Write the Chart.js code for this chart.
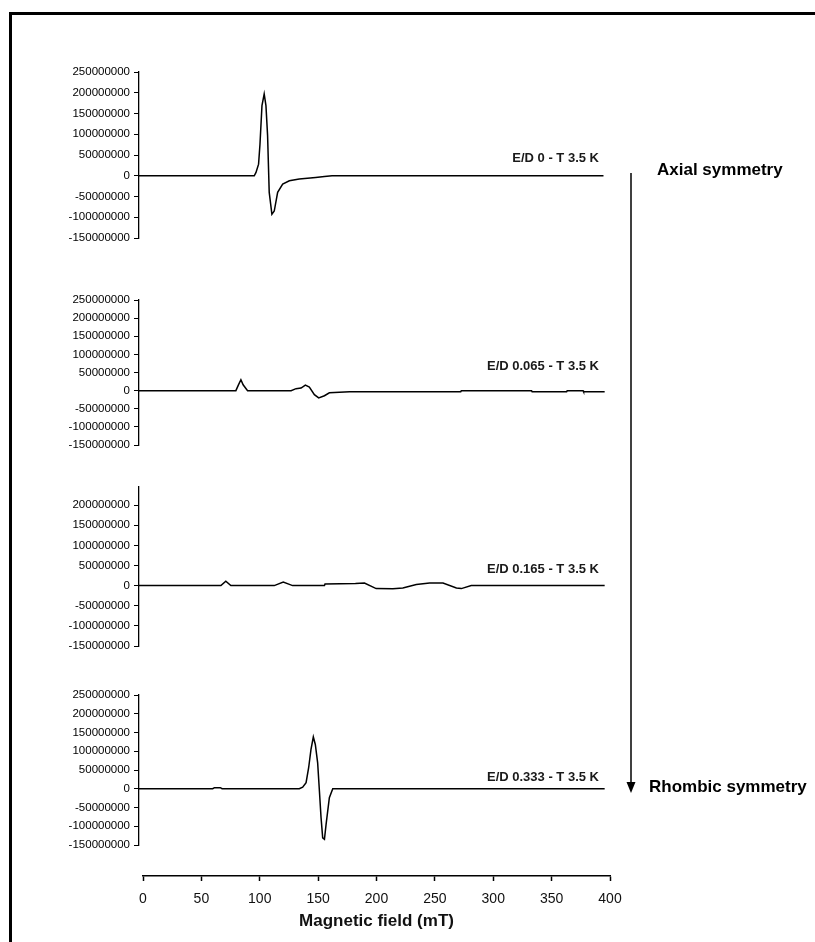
<!DOCTYPE html>
<html><head><meta charset="utf-8">
<script src="https://cdn.jsdelivr.net/npm/chart.js@4.4.1/dist/chart.umd.min.js"></script>
<style>
html,body{margin:0;padding:0;background:#fff;}
#page{position:relative;width:815px;height:942px;overflow:hidden;font-family:"Liberation Sans",Arial,sans-serif;background:#fff;}
#frame{position:absolute;left:9px;top:12px;width:830px;height:960px;border-top:3px solid #000;border-left:3px solid #000;}
canvas{position:absolute;left:0;top:0;}
.lbl{position:absolute;right:216px;font-weight:bold;font-size:13px;color:#1a1a1a;white-space:nowrap;line-height:16px;height:16px;margin-top:-8px;}
.sym{position:absolute;font-weight:bold;font-size:17px;color:#000;white-space:nowrap;line-height:20px;height:20px;margin-top:-10px;}
svg{position:absolute;left:0;top:0;}
</style></head>
<body>
<div id="page">
  <div id="frame"></div>
  <canvas id="p1" width="815" height="196"></canvas>
  <canvas id="p2" width="815" height="175"></canvas>
  <canvas id="p3" width="815" height="189"></canvas>
  <canvas id="p4" width="815" height="180"></canvas>
  <canvas id="ax" width="815" height="220"></canvas>
  <div class="lbl" style="top:158px">E/D 0 - T 3.5 K</div>
  <div class="lbl" style="top:366px">E/D 0.065 - T 3.5 K</div>
  <div class="lbl" style="top:569px">E/D 0.165 - T 3.5 K</div>
  <div class="lbl" style="top:777px">E/D 0.333 - T 3.5 K</div>
  <div class="sym" style="left:657px;top:170px">Axial symmetry</div>
  <div class="sym" style="left:649px;top:787px">Rhombic symmetry</div>
  <svg width="815" height="942">
    <line x1="631" y1="173" x2="631" y2="784" stroke="#000" stroke-width="1.5"/>
    <polygon points="626.5,782 635.5,782 631,793" fill="#000"/>
  </svg>
</div>
<script>
// ---- data ----
const field1 = [0, 98.5, 100, 102.2, 103.4, 105.1, 107, 108.5, 109.9, 111.3, 113.6, 115.6, 118.5, 122.8, 128.5, 137, 151, 158.5, 165, 397];
const signal1 = [0, 0, 8e6, 28e6, 76e6, 169e6, 197e6, 169e6, 97e6, -40e6, -93e6, -85e6, -40e6, -20e6, -12e6, -8e6, -4e6, -2e6, 0, 0];

const field2 = [0, 82.8, 85, 87.1, 89, 92.8, 130, 134.2, 138.5, 142.2, 145.6, 149.9, 153.6, 158.5, 162.7, 180, 275, 275.5, 335.5, 336, 365.5, 366, 379.6, 380, 398];
const signal2 = [0, 0, 16e6, 30e6, 16e6, 0, 0, 5.5e6, 7e6, 15e6, 10e6, -11e6, -20e6, -14e6, -6e6, -3e6, -3e6, 0, 0, -3e6, -3e6, 0, 0, -3e6, -3e6];

const field3 = [0, 70, 74.2, 78.5, 115.6, 123.3, 131.3, 158.5, 159, 185, 192.7, 202.7, 217, 225.5, 237, 248.4, 259.8, 271.3, 275.5, 284, 398];
const signal3 = [0, 0, 11e6, 0, 0, 9e6, 0, 0, 4e6, 5e6, 6.5e6, -7.4e6, -8e6, -5.7e6, 3e6, 6.5e6, 6.5e6, -5.7e6, -7.4e6, 0, 0];

const field4 = [0, 63, 64.5, 69.5, 71, 137, 139.9, 142.8, 145, 147, 149, 150.7, 152.7, 154.2, 155.6, 157, 158.5, 159.9, 162.7, 165.6, 398];
const signal4 = [0, 0, 3e6, 3e6, 0, 0, 4.4e6, 16e6, 56e6, 105e6, 138e6, 118e6, 69e6, -6e6, -77e6, -131e6, -135e6, -95e6, -24e6, 0, 0];

const yTicksFull = [-150e6, -100e6, -50e6, 0, 50e6, 100e6, 150e6, 200e6, 250e6];
const yTicksP3 = [-150e6, -100e6, -50e6, 0, 50e6, 100e6, 150e6, 200e6];
const xTicks = [0, 50, 100, 150, 200, 250, 300, 350, 400];
const xTitle = 'Magnetic field (mT)';

const FONT = '"Liberation Sans", Arial, sans-serif';

function place(chart, canvas, left, top, useBottom) {
  const a = chart.chartArea;
  canvas.style.left = (left - a.left) + 'px';
  canvas.style.top = (top - (useBottom ? a.bottom : a.top)) + 'px';
}

function makePanel(id, xs, ys, yMax, tickVals, areaTop) {
  const cv = document.getElementById(id);
  const pts = xs.map((x, i) => ({x: x, y: ys[i]}));
  const chart = new Chart(cv, {
    type: 'line',
    data: { datasets: [{ data: pts, borderColor: '#000', borderWidth: 1.5, pointRadius: 0, tension: 0, fill: false }] },
    options: {
      responsive: false, animation: false, devicePixelRatio: 1,
      layout: { padding: { left: 0, right: 208, top: 15, bottom: 15 } },
      plugins: { legend: { display: false }, tooltip: { enabled: false } },
      scales: {
        x: { type: 'linear', min: 0, max: 400, display: false },
        y: {
          type: 'linear', min: -150e6, max: yMax,
          afterBuildTicks: s => { s.ticks = tickVals.map(v => ({value: v})); },
          afterFit: s => { s.width = 139; },
          ticks: { color: '#000', font: { family: FONT, size: 11.5 }, padding: 4, callback: v => String(v) },
          grid: { drawOnChartArea: false, drawTicks: true, tickLength: 5, color: '#000', tickWidth: 1 },
          border: { display: true, color: '#000', width: 1.3 }
        }
      }
    }
  });
  place(chart, cv, 139, areaTop, false);
  return chart;
}

makePanel('p1', field1, signal1, 250e6, yTicksFull, 72);
makePanel('p2', field2, signal2, 250e6, yTicksFull, 300);
makePanel('p3', field3, signal3, 245e6, yTicksP3, 487);
makePanel('p4', field4, signal4, 250e6, yTicksFull, 695);

// bottom x axis
(function(){
  const cv = document.getElementById('ax');
  const chart = new Chart(cv, {
    type: 'line',
    data: { datasets: [{ data: [], borderWidth: 0, pointRadius: 0 }] },
    options: {
      responsive: false, animation: false, devicePixelRatio: 1,
      layout: { padding: { left: 143, right: 205, top: 10, bottom: 2 } },
      plugins: { legend: { display: false }, tooltip: { enabled: false } },
      scales: {
        y: { display: false, min: 0, max: 1 },
        x: {
          type: 'linear', position: 'bottom', min: 0, max: 400,
          afterBuildTicks: s => { s.ticks = xTicks.map(v => ({value: v})); },
          ticks: { color: '#111', font: { family: FONT, size: 14, lineHeight: 1 }, padding: 11, maxRotation: 0, autoSkip: false, callback: v => String(v) },
          grid: { drawOnChartArea: false, drawTicks: true, tickLength: 5, color: '#000', tickWidth: 1.5 },
          border: { display: true, color: '#000', width: 1.5 },
          title: { display: true, text: xTitle, color: '#111', font: { family: FONT, size: 17, weight: 'bold', lineHeight: 1 }, padding: { top: -4, bottom: 0 } }
        }
      }
    }
  });
  place(chart, cv, 143, 876, true);
})();
</script>
</body></html>
